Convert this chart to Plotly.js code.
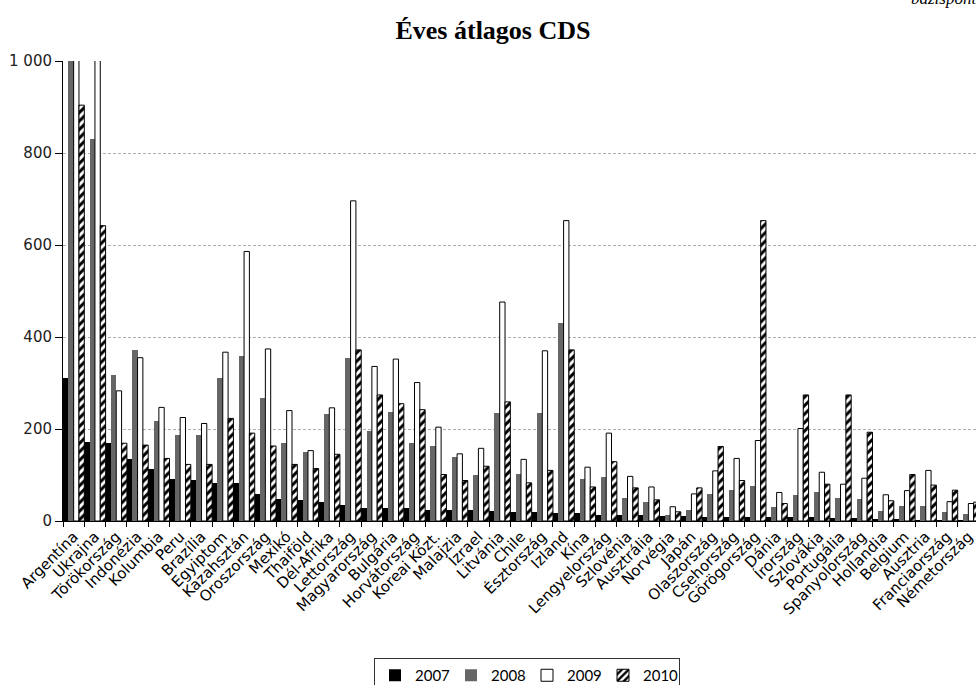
<!DOCTYPE html>
<html>
<head>
<meta charset="utf-8">
<script src="https://cdn.plot.ly/plotly-3.0.1.min.js"></script>
<style>
html, body { margin: 0; padding: 0; overflow: hidden; background: #fff; }
#chart { width: 985px; height: 685px; }
</style>
</head>
<body>
<div id="chart"></div>
<script>
const categories = ["Argentína","Ukrajna","Törökország","Indonézia","Kolumbia","Peru","Brazília","Egyiptom","Kazahsztán","Oroszország","Mexikó","Thaiföld","Dél-Afrika","Lettország","Magyarország","Bulgária","Horvátország","Koreai Közt.","Malajzia","Izrael","Litvánia","Chile","Észtország","Izland","Kína","Lengyelország","Szlovénia","Ausztrália","Norvégia","Japán","Olaszország","Csehország","Görögország","Dánia","Írország","Szlovákia","Portugália","Spanyolország","Hollandia","Belgium","Ausztria","Franciaország","Németország"];

const v2007 = [310,172,170,134,112,91,89,83,83,59,47,45,42,34,28,28,28,25,23,23,21,19,19,17,17,12,12,12,10,10,8,8,8,8,8,8,6,6,4,4,2,2,2];
const v2008 = [1250,830,317,372,217,187,187,311,358,268,169,149,232,355,196,238,169,164,139,99,234,102,234,430,91,96,51,41,12,23,59,68,77,30,56,64,49,47,21,32,32,19,15];
const v2009 = [1700,2400,283,355,247,225,212,367,586,374,240,153,246,696,336,352,301,204,146,158,476,134,370,653,117,191,97,74,31,59,109,136,175,62,201,106,80,93,57,66,110,42,38];
const v2010 = [904,642,169,165,136,123,123,223,191,163,123,114,145,372,274,255,242,101,88,119,259,83,110,372,74,129,72,46,20,72,162,88,653,38,274,80,274,193,44,101,78,67,41];

const yTicks = [0,200,400,600,800,1000];
const seriesNames = ["2007","2008","2009","2010"];

const traces = [
  {type:'bar', name:seriesNames[0], x:categories, y:v2007,
   marker:{color:'#000000', line:{width:0}}},
  {type:'bar', name:seriesNames[1], x:categories, y:v2008,
   marker:{color:'#666666', line:{width:0}}},
  {type:'bar', name:seriesNames[2], x:categories, y:v2009,
   marker:{color:'#ffffff', line:{color:'#000000', width:1}}},
  {type:'bar', name:seriesNames[3], x:categories, y:v2010,
   marker:{color:'#ffffff', line:{color:'#000000', width:1},
           pattern:{shape:'/', fgcolor:'#000000', bgcolor:'#ffffff', size:6, solidity:0.5}}}
];

const layout = {
  width: 985, height: 685,
  margin: {l:63, r:6, t:61, b:164, pad:0, autoexpand:false},
  paper_bgcolor:'#ffffff', plot_bgcolor:'#ffffff',
  barmode:'group', bargap:0, bargroupgap:0,
  separators: ', ',
  showlegend:true,
  title:{text:'<b>Éves átlagos CDS</b>', x:493/985, xref:'container', xanchor:'center',
         y:1-30/685, yref:'container', yanchor:'middle',
         font:{family:'Liberation Serif, Times New Roman, serif', size:26, color:'#000'}},
  xaxis:{type:'category', range:[-0.5, categories.length-0.5], automargin:false,
         tickangle:-45, tickson:'boundaries', ticks:'outside', ticklen:5, tickcolor:'#000', tickwidth:1,
         showline:true, linecolor:'#000', linewidth:1, showgrid:false, zeroline:false,
         tickfont:{family:'DejaVu Sans, Verdana, sans-serif', size:15, color:'#000'}},
  yaxis:{range:[0,1000], tickvals:yTicks, separatethousands:true, tickformat:',d', automargin:false,
         ticks:'outside', ticklen:7, tickcolor:'#000', tickwidth:1,
         showline:true, linecolor:'#000', linewidth:1, zeroline:false,
         showgrid:true, gridcolor:'#b0b0b0', gridwidth:1, griddash:'3px,2px',
         tickfont:{family:'DejaVu Sans, Verdana, sans-serif', size:15, color:'#222'}},
  legend:{orientation:'h', x:(527-63)/916, xanchor:'center', y:(521-658)/460, yanchor:'top',
          bordercolor:'#333', borderwidth:1, bgcolor:'#fff', entrywidth:31,
          font:{family:'Lato, Calibri, sans-serif', size:15, color:'#000'},
          traceorder:'normal', itemwidth:30},
  annotations:[{text:'<i>bázispont</i>', xref:'paper', yref:'paper', x:1, xanchor:'right',
                y:(521+2)/460, yanchor:'middle', showarrow:false,
                font:{family:'Liberation Serif, Times New Roman, serif', size:17, color:'#000'}}]
};

Plotly.newPlot('chart', traces, layout, {displayModeBar:false, staticPlot:true});
</script>
</body>
</html>
